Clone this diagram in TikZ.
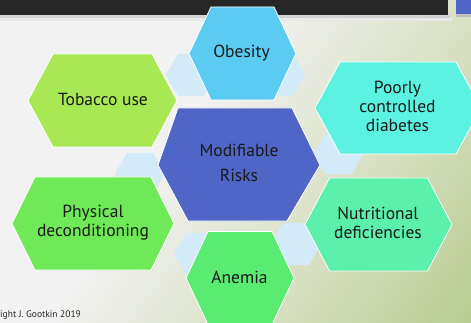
\documentclass[tikz,border=0pt]{standalone}
\usepackage{fontspec}
\setmainfont{PT Sans}
\definecolor{bggray}{HTML}{F2F2F2}
\definecolor{bgmid}{HTML}{D8E0C2}
\definecolor{bggreen}{HTML}{A0BE6C}
\definecolor{darkbar}{HTML}{262626}
\definecolor{cobesity}{HTML}{5CCBF1}
\definecolor{ctobacco}{HTML}{A8E854}
\definecolor{cdiabetes}{HTML}{5CF2E2}
\definecolor{cmodif}{HTML}{4F66C7}
\definecolor{cphys}{HTML}{70E958}
\definecolor{cnutri}{HTML}{5BF0AB}
\definecolor{canemia}{HTML}{5AEB72}
\definecolor{clink}{HTML}{D3EAF8}
\pgfdeclarehorizontalshading{bgshade}{100bp}{color(0bp)=(bggray); color(42bp)=(bggray); color(64bp)=(bgmid); color(100bp)=(bggreen)}
\newcommand\hexpath[5]{({#1-#3},{#2}) -- ({#1-#4},{#2-#5}) -- ({#1+#4},{#2-#5}) -- ({#1+#3},{#2}) -- ({#1+#4},{#2+#5}) -- ({#1-#4},{#2+#5}) -- cycle}
\tikzset{
  hexmain/.style={draw=white, line width=0.8pt},
  linkhex/.style={fill=clink},
  hextext/.style={font=\fontsize{17.5}{19}\selectfont, text=black!90, align=center, inner sep=0pt},
}
\begin{document}
\begin{tikzpicture}[x=1pt,y=-1pt]
\useasboundingbox (0,0) rectangle (471,323);
\clip (0,0) rectangle (471,323);
% background
\fill[bggray] (0,0) rectangle (471,323);
\fill[shading=bgshade, shading angle=-35] (0,0) rectangle (471,323);
% top bar with soft shadow
\fill[black!18] (0,15) rectangle (450,18);
\fill[black!9] (0,18) rectangle (452,21);
\fill[darkbar] (0,0) rectangle (448,15);
\fill[black!25] (456,14) rectangle (471,17);
\fill[cmodif] (456,0) rectangle (471,14);
% linking small hexagons
\fill[linkhex] \hexpath{191}{75}{25}{13}{21};
\fill[linkhex] \hexpath{280}{75}{25}{13}{21};
\fill[linkhex] \hexpath{140}{174}{25}{13}{21};
\fill[linkhex] \hexpath{338.5}{153.5}{25}{13}{21};
\fill[linkhex] \hexpath{199}{254}{25}{13}{21};
\fill[linkhex] \hexpath{296}{244}{25}{13}{21};
% main hexagons
\filldraw[hexmain, fill=cobesity] \hexpath{242.5}{53.5}{53.5}{31.5}{46.5};
\filldraw[hexmain, fill=ctobacco] \hexpath{102.5}{100.5}{74.5}{49.5}{46.5};
\filldraw[hexmain, fill=cdiabetes] \hexpath{398}{108}{83}{58}{46};
\filldraw[hexmain, fill=cmodif] (158,165) -- (178,108) -- (292,108) -- (320,165) -- (287,221) -- (188,221) -- cycle;
\filldraw[hexmain, fill=cphys] \hexpath{93}{223.5}{81}{58}{46.5};
\filldraw[hexmain, fill=cnutri] \hexpath{378.5}{224.5}{73.5}{49}{46.5};
\filldraw[hexmain, fill=canemia] \hexpath{240}{278}{54}{32}{46.5};
% texts
\node[hextext] (obesity) at (241.5,53) {Obesity};
\node[hextext] (tobacco) at (103,99) {Tobacco use};
\node[hextext] (diabetes) at (397.5,106) {Poorly\\controlled\\diabetes};
\node[hextext] (modif) at (239,162.5) {Modifiable\\[6pt]Risks};
\node[hextext] (phys) at (93,222.5) {Physical\\deconditioning};
\node[hextext] (nutri) at (378,223) {Nutritional\\deficiencies};
\node[hextext] (anemia) at (239.5,277) {Anemia};
\node[font=\fontsize{9.5}{11}\selectfont, anchor=west, inner sep=0pt, text=black!85] (copy) at (0,315) {ight J. Gootkin 2019};
\end{tikzpicture}
\end{document}
